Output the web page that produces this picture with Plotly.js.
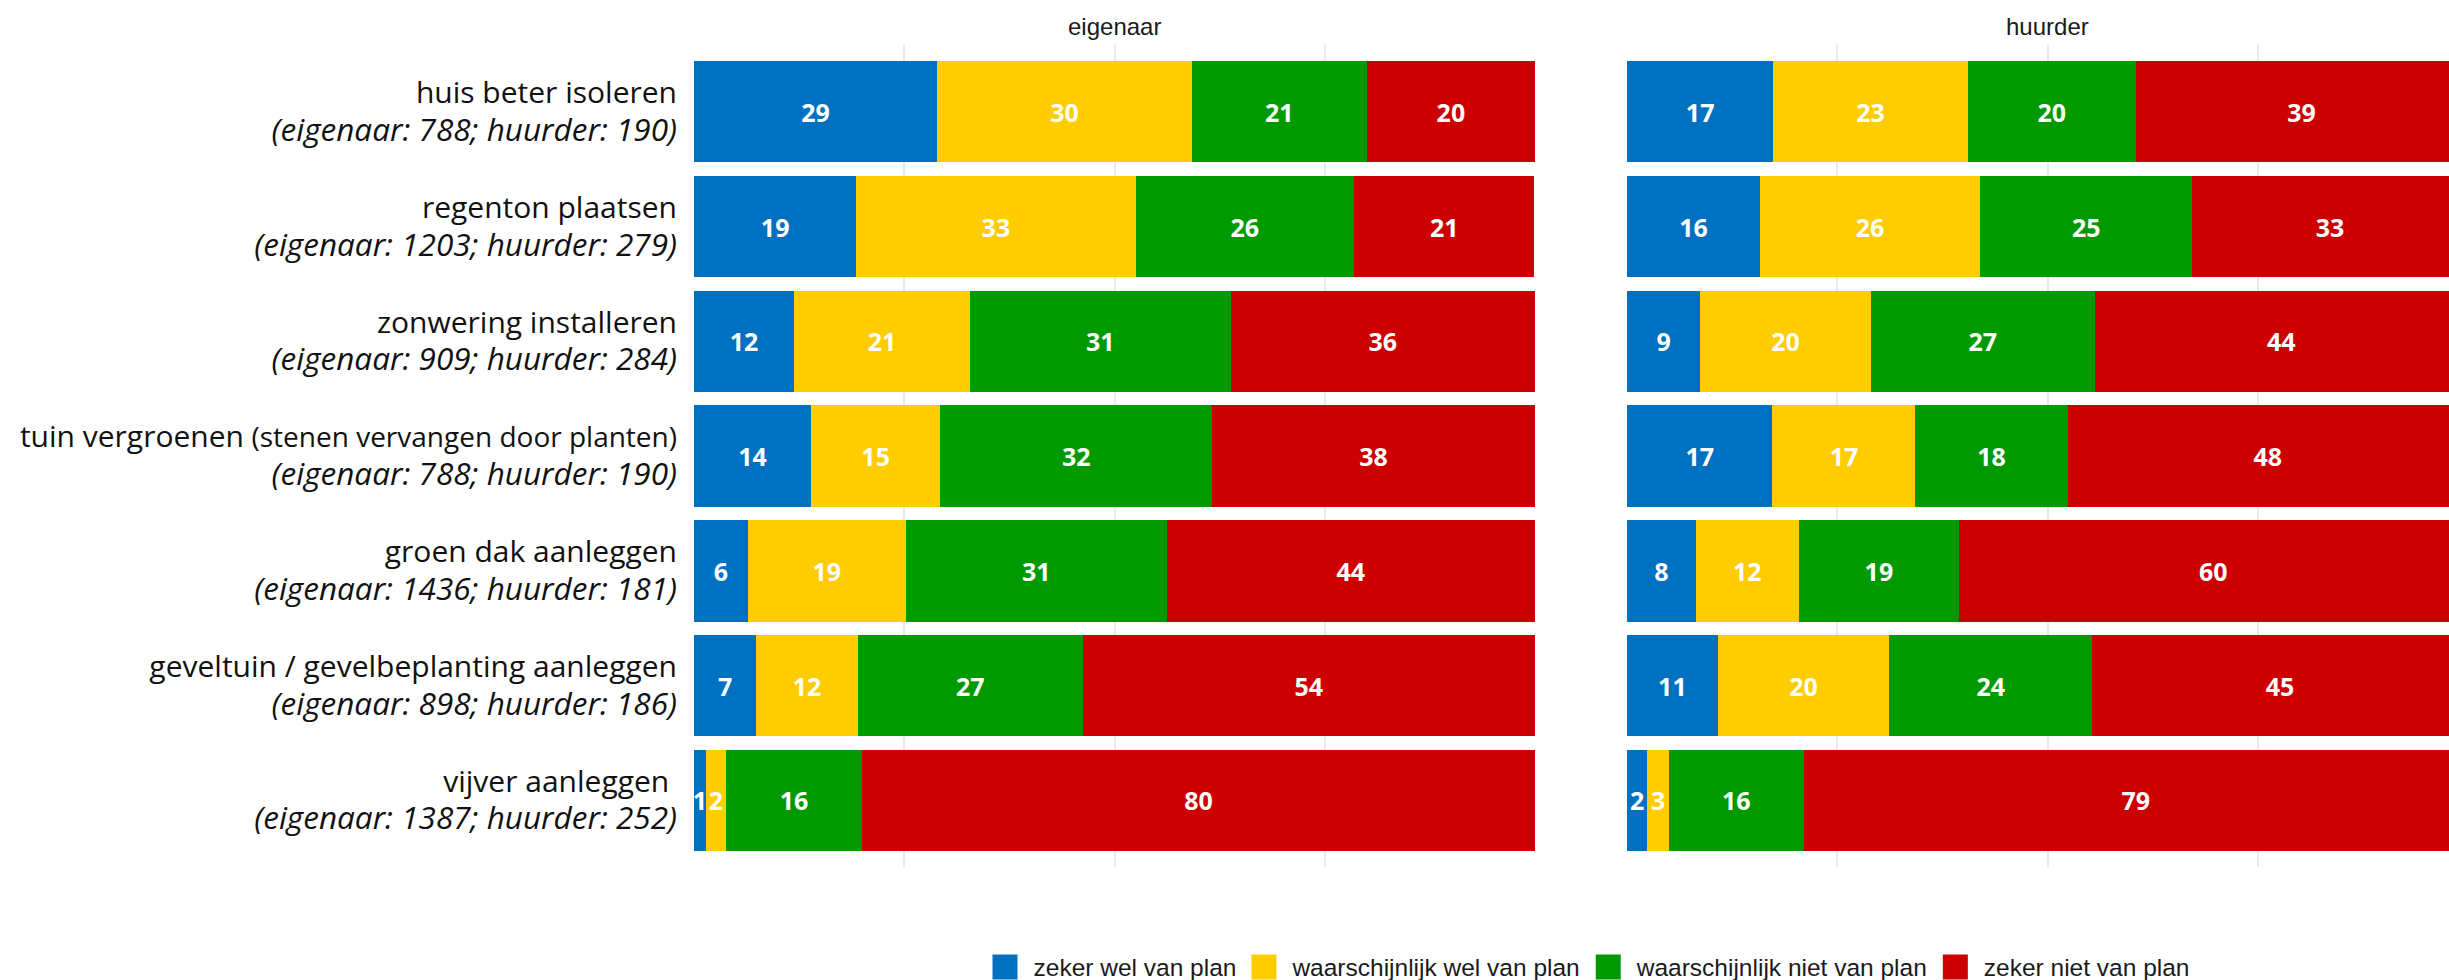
<!DOCTYPE html>
<html>
<head>
<meta charset="utf-8">
<script src="https://cdn.plot.ly/plotly-3.0.1.min.js"></script>
<style>
  html, body { margin: 0; padding: 0; background: #ffffff; }
  #chart { width: 2449px; height: 980px; }
</style>
</head>
<body>
<div id="chart"></div>
<script>
// ---- data ----
const categories = [
  "huis beter isoleren",
  "regenton plaatsen",
  "zonwering installeren",
  "tuin vergroenen",
  "groen dak aanleggen",
  "geveltuin / gevelbeplanting aanleggen",
  "vijver aanleggen "
];
const categoryNotes = ["", "", "", "(stenen vervangen door planten)", "", "", ""];
const nEigenaar = [788, 1203, 909, 788, 1436, 898, 1387];
const nHuurder  = [190, 279, 284, 190, 181, 186, 252];

const seriesNames = ["zeker wel van plan", "waarschijnlijk wel van plan", "waarschijnlijk niet van plan", "zeker niet van plan"];
const seriesColors = ["#0070c0", "#ffcc00", "#009900", "#cc0000"];

// percentages, eigenaar
const eigZekerWel      = [28.9, 19.3, 11.9, 13.9, 6.4, 7.4, 1.4];
const eigWaarschWel    = [30.3, 33.2, 20.9, 15.4, 18.8, 12.1, 2.4];
const eigWaarschNiet   = [20.8, 26.0, 31.0, 32.3, 31.0, 26.7, 16.2];
const eigZekerNiet     = [20.0, 21.4, 36.2, 38.4, 43.8, 53.8, 80.0];
// percentages, huurder
const huuZekerWel      = [17.4, 15.8, 8.7, 17.3, 8.2, 10.8, 2.4];
const huuWaarschWel    = [23.1, 26.2, 20.3, 17.0, 12.2, 20.4, 2.6];
const huuWaarschNiet   = [20.0, 25.2, 26.6, 18.1, 19.1, 24.1, 16.0];
const huuZekerNiet     = [39.4, 32.8, 44.4, 47.6, 60.4, 44.7, 79.0];

const panelTitles = ["eigenaar", "huurder"];
const xTickVals = [0, 25, 50, 75, 100];

// ---- build ----
const eigSeries = [eigZekerWel, eigWaarschWel, eigWaarschNiet, eigZekerNiet];
const huuSeries = [huuZekerWel, huuWaarschWel, huuWaarschNiet, huuZekerNiet];

const tickText = categories.map((c, i) => {
  const main = '<span style="font-size:30px">' + c.replace(/ $/, '\u00a0') + '</span>';
  const note = categoryNotes[i] ? ' <span style="font-size:28px">' + categoryNotes[i] + '</span>' : '';
  return main + note + '<br><span style="font-size:31.5px"><i>(eigenaar: ' + nEigenaar[i] + '; huurder: ' + nHuurder[i] + ')</i></span>';
});

const traces = [];
function addPanel(series, xaxis, showLegend) {
  series.forEach((vals, k) => {
    traces.push({
      type: 'bar',
      orientation: 'h',
      name: seriesNames[k],
      legendgroup: seriesNames[k],
      showlegend: showLegend,
      x: vals,
      y: categories,
      xaxis: xaxis,
      yaxis: 'y',
      marker: { color: seriesColors[k], line: { width: 0 } },
      texttemplate: '%{x:.0f}',
      textposition: 'inside',
      insidetextanchor: 'middle',
      textangle: 0,
      constraintext: 'none',
      insidetextfont: { family: 'Open Sans, sans-serif', size: 25, color: '#ffffff', weight: 'bold' },
      hoverinfo: 'skip'
    });
  });
}
addPanel(eigSeries, 'x', true);
addPanel(huuSeries, 'x2', false);

const L = 694, W = 2449, plotW = W - L;
const leftEnd = 1535, rightStart = 1627;
const pxPerUnit = (leftEnd - L) / 100;
const rightFullEnd = rightStart + 100 * pxPerUnit;

const gridStyle = {
  showgrid: true, gridcolor: '#ebebeb', gridwidth: 2,
  zeroline: false, showline: false, showticklabels: false, ticks: '',
  tickvals: xTickVals, fixedrange: true
};

const legendItemWidth = 41;

const layout = {
  width: 2449, height: 980,
  margin: { l: L, r: 0, t: 44, b: 113, pad: 0 },
  paper_bgcolor: '#ffffff', plot_bgcolor: '#ffffff',
  barmode: 'stack',
  bargap: 0.117,
  showlegend: true,
  font: { family: 'Open Sans, sans-serif', color: '#111111' },
  xaxis: Object.assign({}, gridStyle, { domain: [0, (leftEnd - L) / plotW], range: [0, 100] }),
  xaxis2: Object.assign({}, gridStyle, { domain: [(rightStart - L) / plotW, 1], range: [0, (W - rightStart) / pxPerUnit], anchor: 'y' }),
  yaxis: {
    type: 'category',
    range: [6.58, -0.59],
    tickvals: categories,
    ticktext: tickText,
    showgrid: false, zeroline: false, showline: false, ticks: '',
    ticklabelstandoff: 16,
    tickfont: { family: 'Open Sans, sans-serif', size: 29, color: '#111111' },
    automargin: false, fixedrange: true
  },
  legend: {
    orientation: 'h',
    xref: 'paper', yref: 'container',
    x: (982.5 - L) / plotW, xanchor: 'left',
    y: 1 - 967 / 980, yanchor: 'middle',
    itemwidth: legendItemWidth,
    font: { family: 'Liberation Sans, Arial, sans-serif', size: 24.5, color: '#1a1a1a' },
    traceorder: 'normal',
    itemclick: false, itemdoubleclick: false,
    bgcolor: 'rgba(0,0,0,0)'
  },
  annotations: [
    { text: panelTitles[0], xref: 'paper', yref: 'paper', x: ((leftEnd + L) / 2 - L) / plotW, y: 1 + 17.5 / 823,
      xanchor: 'center', yanchor: 'middle', showarrow: false,
      font: { family: 'Liberation Sans, Arial, sans-serif', size: 24, color: '#1a1a1a' } },
    { text: panelTitles[1], xref: 'paper', yref: 'paper', x: ((rightStart + rightFullEnd) / 2 - L) / plotW, y: 1 + 17.5 / 823,
      xanchor: 'center', yanchor: 'middle', showarrow: false,
      font: { family: 'Liberation Sans, Arial, sans-serif', size: 24, color: '#1a1a1a' } }
  ]
};

Plotly.newPlot('chart', traces, layout, { displayModeBar: false, staticPlot: true }).then(gd => {
  // larger legend swatches (25px squares) whose left edge sits 41px before the legend text.
  // Plotly puts the symbol centre at (itemwidth + 10) / 2 and the text at itemwidth + 10.
  const textGap = legendItemWidth + 10;
  const centre = textGap / 2;
  const left = textGap - 41 - centre, right = left + 25;
  gd.querySelectorAll('.legendpoints path').forEach(p => p.setAttribute('d', 'M' + right + ',12.5H' + left + 'V-12.5H' + right + 'Z'));
});
</script>
</body>
</html>
